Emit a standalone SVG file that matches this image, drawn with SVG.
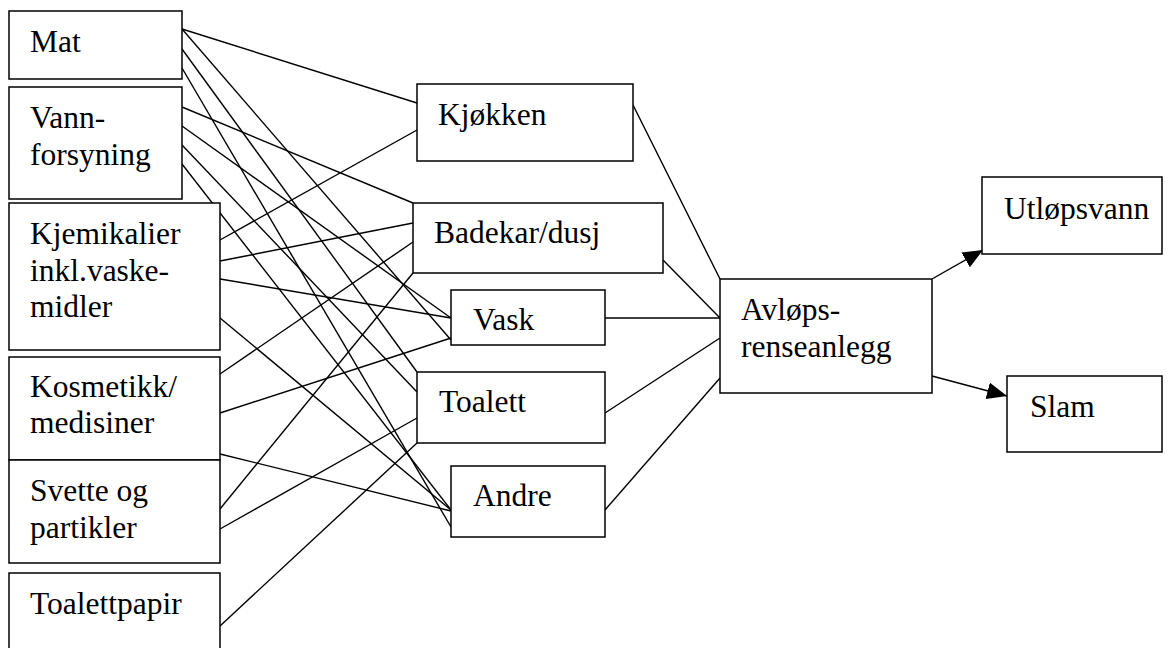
<svg xmlns="http://www.w3.org/2000/svg" width="1168" height="648" viewBox="0 0 1168 648">
<style>
.box{fill:#fff;stroke:#000;stroke-width:1.5}
text{font-family:'Liberation Serif','Times New Roman',serif;font-size:31.5px;fill:#000}
.c line{stroke:#000;stroke-width:1.4}
</style>
<defs>
<marker id="ah" markerUnits="userSpaceOnUse" markerWidth="20" markerHeight="17" refX="20" refY="8.5" orient="auto">
<path d="M0,0 L20,8.5 L0,17 z" fill="#000"/>
</marker>
</defs>
<rect width="1168" height="648" fill="#fff"/>
<g id="connectors" class="c">
<line x1="182" y1="29" x2="417" y2="103"/>
<line x1="182" y1="29" x2="451" y2="340"/>
<line x1="182" y1="49" x2="417" y2="372"/>
<line x1="182" y1="68" x2="451" y2="527"/>
<line x1="182" y1="107" x2="413" y2="203"/>
<line x1="182" y1="126" x2="451" y2="318"/>
<line x1="182" y1="145" x2="417" y2="392"/>
<line x1="182" y1="164" x2="451" y2="510"/>
<line x1="220" y1="240" x2="417" y2="130"/>
<line x1="220" y1="261" x2="413" y2="223"/>
<line x1="220" y1="279" x2="451" y2="318"/>
<line x1="220" y1="318" x2="451" y2="510"/>
<line x1="220" y1="374" x2="413" y2="242"/>
<line x1="220" y1="413" x2="451" y2="338"/>
<line x1="220" y1="454" x2="451" y2="511"/>
<line x1="220" y1="509" x2="413" y2="273"/>
<line x1="220" y1="529" x2="417" y2="418"/>
<line x1="220" y1="626" x2="417" y2="443"/>
<line x1="633" y1="105" x2="720" y2="279"/>
<line x1="663" y1="260" x2="720" y2="318"/>
<line x1="605" y1="318" x2="720" y2="318"/>
<line x1="605" y1="413" x2="720" y2="338"/>
<line x1="605" y1="510" x2="720" y2="378"/>
<line x1="932" y1="279" x2="983" y2="250" marker-end="url(#ah)"/>
<line x1="932" y1="376" x2="1007" y2="396" marker-end="url(#ah)"/>
</g>
<g id="mat"><rect class="box" x="9" y="11" width="173" height="68"/><text x="30" y="52">Mat</text></g>
<g id="vannforsyning"><rect class="box" x="9" y="87" width="173" height="112"/><text x="30" y="128">Vann-</text><text x="30" y="165">forsyning</text></g>
<g id="kjemikalier"><rect class="box" x="9" y="203" width="211" height="147"/><text x="30" y="244">Kjemikalier</text><text x="30" y="281">inkl.vaske-</text><text x="30" y="317">midler</text></g>
<g id="kosmetikk"><rect class="box" x="9" y="357" width="211" height="103"/><text x="30" y="397">Kosmetikk/</text><text x="30" y="433">medisiner</text></g>
<g id="svette"><rect class="box" x="9" y="460" width="211" height="103"/><text x="30" y="501">Svette og</text><text x="30" y="538">partikler</text></g>
<g id="toalettpapir"><rect class="box" x="9" y="573" width="211" height="90"/><text x="30" y="614">Toalettpapir</text></g>
<g id="kjokken"><rect class="box" x="417" y="84" width="216" height="77"/><text x="438" y="125">Kjøkken</text></g>
<g id="badekar"><rect class="box" x="413" y="203" width="250" height="70"/><text x="434" y="243">Badekar/dusj</text></g>
<g id="vask"><rect class="box" x="451" y="290" width="154" height="55"/><text x="473" y="330">Vask</text></g>
<g id="toalett"><rect class="box" x="417" y="372" width="188" height="71"/><text x="439" y="412">Toalett</text></g>
<g id="andre"><rect class="box" x="451" y="466" width="154" height="71"/><text x="473" y="506">Andre</text></g>
<g id="avlops"><rect class="box" x="720" y="279" width="212" height="114"/><text x="741" y="320">Avløps-</text><text x="741" y="357">renseanlegg</text></g>
<g id="utlopsvann"><rect class="box" x="982" y="177" width="180" height="77"/><text x="1004" y="219">Utløpsvann</text></g>
<g id="slam"><rect class="box" x="1007" y="376" width="155" height="76"/><text x="1030" y="417">Slam</text></g>
</svg>
